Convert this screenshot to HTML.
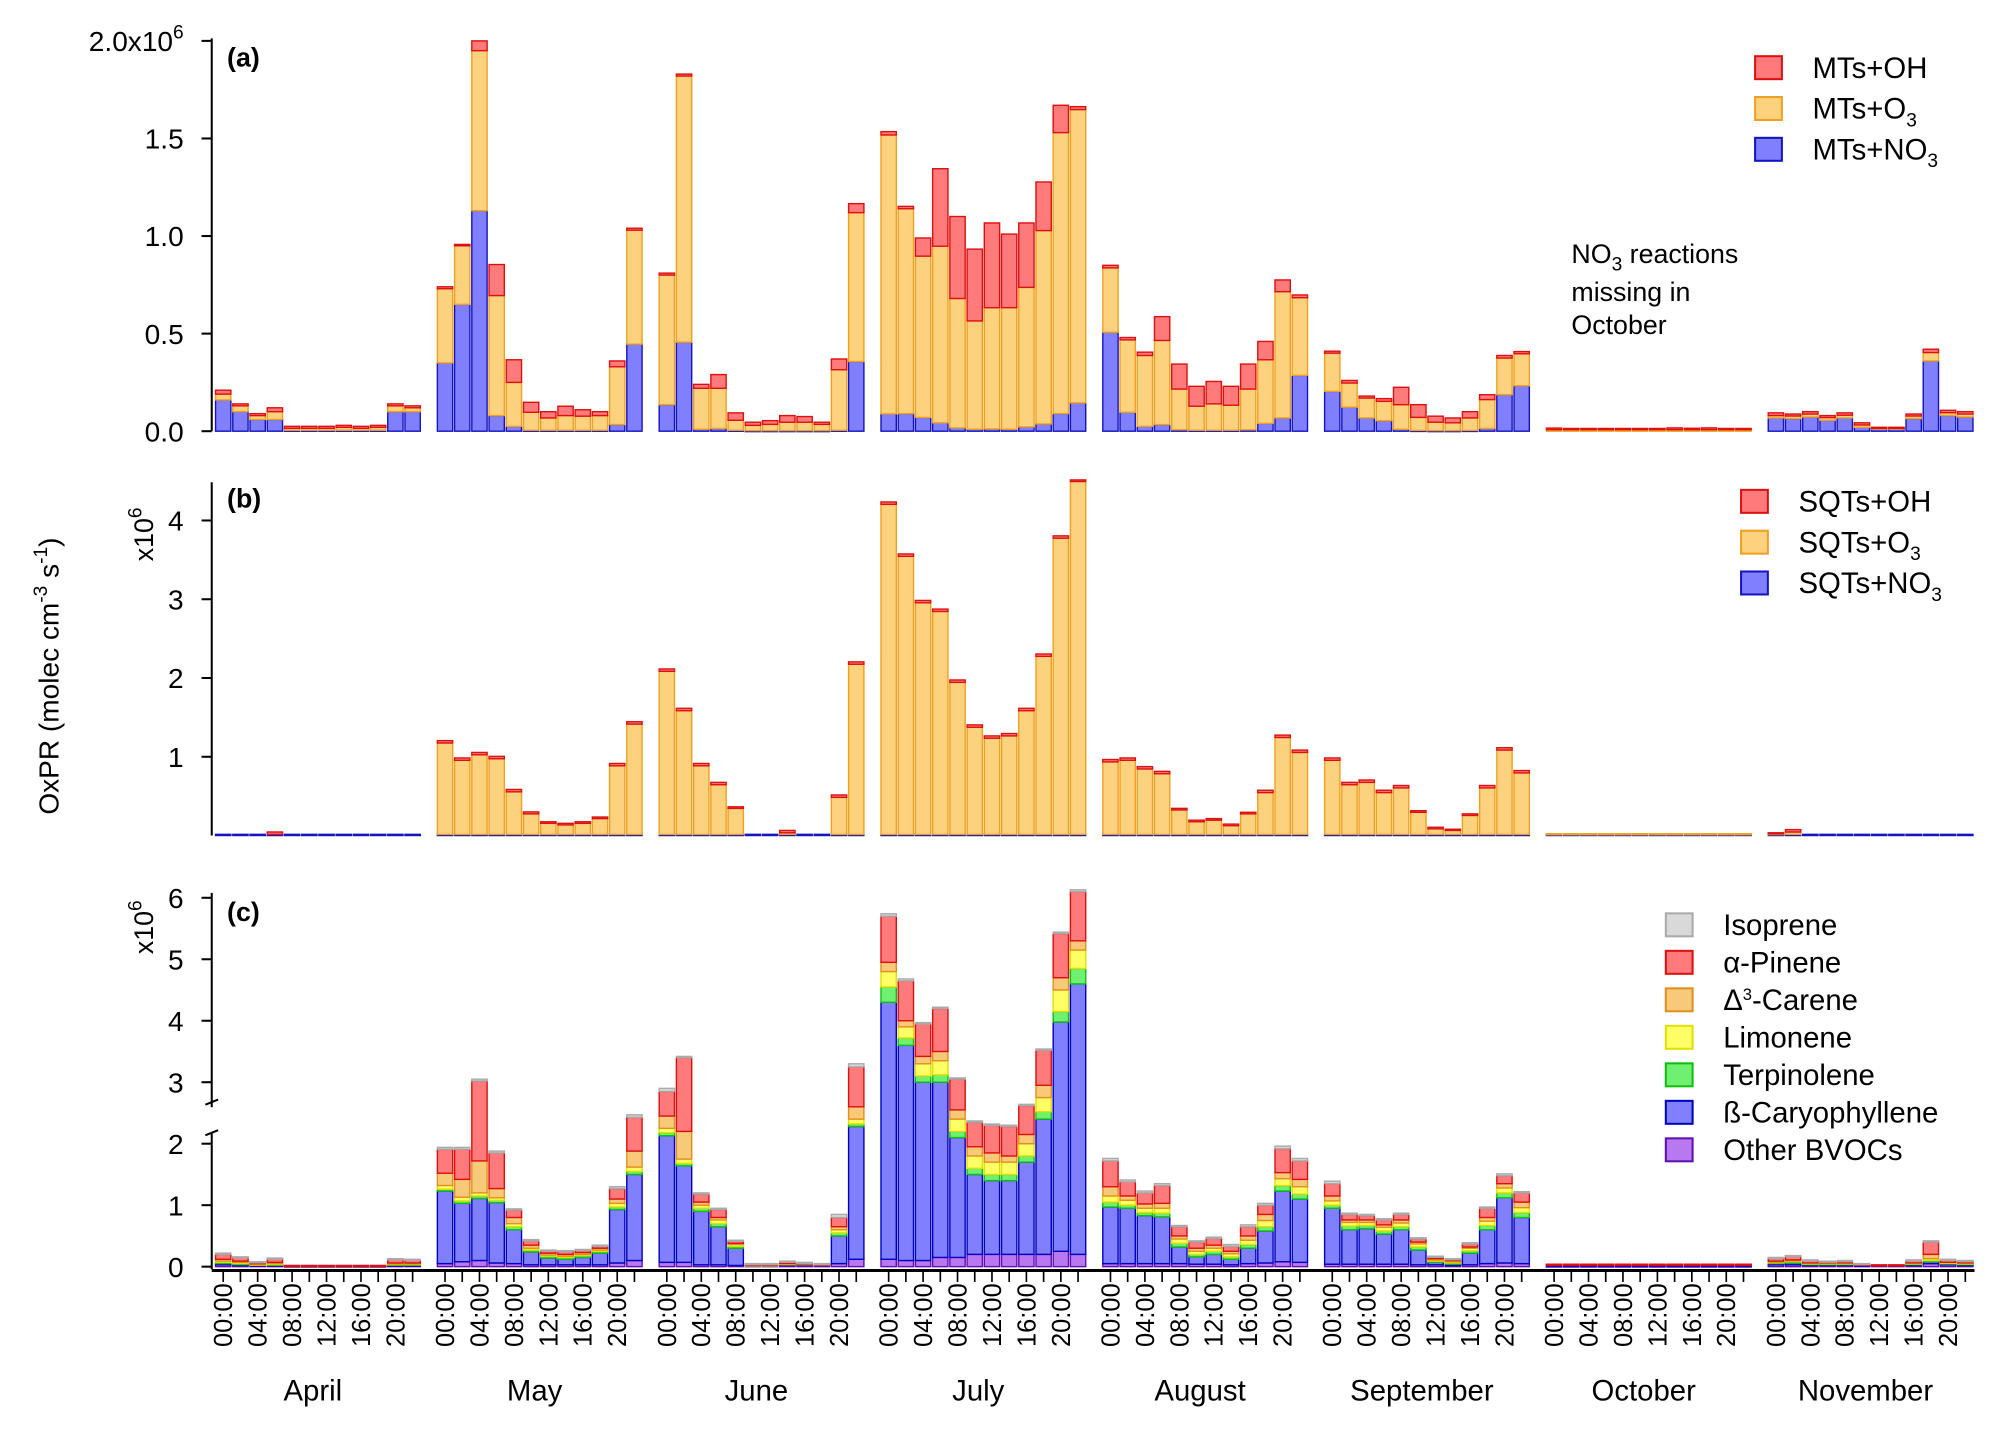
<!DOCTYPE html>
<html><head><meta charset="utf-8"><style>
html,body{margin:0;padding:0;background:#fff;}
svg{display:block;font-family:"Liberation Sans",sans-serif;}
</style></head><body>
<svg id="chart" xmlns="http://www.w3.org/2000/svg" width="2000" height="1430" viewBox="0 0 1568 1121">
<g id="axes"></g>
<g id="bars"></g>
<g id="labels">
<text x="178" y="52" font-size="21" font-weight="bold">(a)</text>
<text x="178" y="398" font-size="21" font-weight="bold">(b)</text>
<text x="178" y="722" font-size="21" font-weight="bold">(c)</text>
<text transform="translate(46,530) rotate(-90)" font-size="22" text-anchor="middle">OxPR (molec cm<tspan dy="-9" font-size="15">-3</tspan><tspan dy="9"> s</tspan><tspan dy="-9" font-size="15">-1</tspan><tspan dy="9">)</tspan></text>
<text transform="translate(120,440) rotate(-90)" font-size="21">x10<tspan dy="-9" font-size="15">6</tspan></text>
<text transform="translate(120,748) rotate(-90)" font-size="21">x10<tspan dy="-9" font-size="15">6</tspan></text>
<text x="1232" y="206" font-size="21">NO<tspan dy="6" font-size="15">3</tspan><tspan dy="-6"> reactions</tspan></text>
<text x="1232" y="236" font-size="21">missing in</text>
<text x="1232" y="262" font-size="21">October</text>
</g>
<g id="legends"></g>
</svg>
<script>
const months = ["April","May","June","July","August","September","October","November"];
const hourLabels = ["00:00","04:00","08:00","12:00","16:00","20:00"];
const aTicks = [0,0.5,1.0,1.5,2.0];
const aTickLabels = ["0.0","0.5","1.0","1.5","2.0x10"];
const bTicks = [1,2,3,4];
const cTicks = [0,1,2,3,4,5,6];

// Panel (a) cumulative tops (x1e6): NO3, NO3+O3, total
const aNO3 = [.16,.10,.06,.06,.005,.005,.005,.005,.005,.005,.10,.10,
 .35,.65,1.13,.08,.025,.005,.005,.005,.005,.005,.034,.446,
 .136,.456,.01,.014,.005,.003,.003,.003,.003,.003,.005,.357,
 .089,.09,.071,.043,.017,.01,.012,.01,.022,.037,.09,.145,
 .507,.097,.025,.034,.007,.005,.005,.005,.007,.04,.068,.286,
 .204,.123,.068,.054,.01,.004,.003,.003,.004,.014,.187,.233,
 0,0,0,0,0,0,0,0,0,0,0,0,
 .068,.065,.073,.056,.068,.02,.012,.012,.065,.36,.08,.073];
const aO3Top = [.19,.13,.08,.10,.015,.015,.015,.02,.015,.02,.13,.12,
 .73,.95,1.95,.695,.25,.097,.068,.08,.077,.08,.33,1.03,
 .80,1.82,.22,.22,.056,.03,.035,.046,.046,.035,.315,1.12,
 1.518,1.14,.897,.948,.68,.565,.633,.633,.737,1.028,1.53,1.648,
 .837,.468,.388,.465,.216,.128,.14,.133,.216,.366,.715,.684,
 .40,.247,.17,.153,.136,.071,.046,.043,.068,.162,.375,.397,
 .008,.008,.008,.008,.008,.008,.008,.008,.008,.008,.008,.008,
 .08,.078,.088,.07,.082,.032,.016,.016,.078,.403,.095,.088];
const aTotal = [.21,.14,.09,.12,.025,.025,.025,.03,.025,.03,.14,.13,
 .74,.957,2.0,.854,.366,.148,.10,.128,.11,.10,.36,1.04,
 .81,1.83,.24,.29,.094,.046,.054,.08,.075,.046,.37,1.166,
 1.535,1.152,.99,1.345,1.10,.933,1.067,1.01,1.067,1.277,1.67,1.663,
 .85,.48,.405,.587,.344,.23,.255,.23,.344,.46,.775,.698,
 .41,.26,.18,.167,.225,.136,.077,.068,.1,.187,.388,.408,
 .016,.014,.014,.014,.014,.014,.014,.017,.015,.017,.014,.014,
 .094,.088,.1,.08,.094,.043,.02,.02,.088,.42,.107,.1];

// Panel (b) components (x1e6)
const bNO3 = Array(96).fill(0.015);
const bO3 = [0,0,0,0,0,0,0,0,0,0,0,0,
 1.16,.94,1.01,.96,.54,.26,.14,.12,.14,.2,.87,1.4,
 2.07,1.57,.87,.63,.33,0,0,.02,0,0,.47,2.16,
 4.19,3.53,2.94,2.83,1.93,1.36,1.22,1.25,1.57,2.26,3.76,4.48,
 .92,.94,.83,.77,.31,.16,.18,.11,.26,.53,1.23,1.04,
 .94,.63,.66,.53,.59,.28,.07,.05,.24,.59,1.07,.78,
 .008,.008,.008,.008,.008,.008,.008,.008,.008,.008,.008,.008,
 .01,.03,0,0,0,0,0,0,0,0,0,0];
const bOH = [0,0,0,.03,0,0,0,0,0,0,0,0,
 .03,.03,.03,.03,.03,.025,.02,.02,.02,.02,.03,.03,
 .03,.03,.03,.03,.02,0,0,.03,0,0,.03,.03,
 .03,.03,.03,.03,.03,.03,.03,.03,.03,.03,.03,.02,
 .03,.03,.03,.03,.02,.02,.02,.02,.02,.03,.03,.03,
 .03,.03,.03,.03,.03,.02,.02,.015,.02,.03,.03,.03,
 0,0,0,0,0,0,0,0,0,0,0,0,
 .01,.03,0,0,0,0,0,0,0,0,0,0];

// Panel (c) cumulative layer tops (x1e6), bottom to top
const cOther = [.03,.02,.02,.02,.01,.01,.01,.01,.01,.01,.02,.02,
 .05,.08,.1,.06,.05,.03,.03,.03,.03,.03,.06,.1,
 .07,.07,.03,.03,.02,.02,.02,.03,.03,.03,.05,.12,
 .12,.1,.1,.15,.15,.2,.2,.2,.2,.2,.25,.2,
 .05,.05,.05,.05,.05,.04,.04,.03,.05,.06,.08,.07,
 .04,.04,.04,.04,.04,.03,.03,.02,.03,.05,.06,.05,
 .01,.01,.01,.01,.01,.01,.01,.01,.01,.01,.01,.01,
 .03,.03,.03,.03,.03,.02,.02,.02,.02,.05,.03,.02];
const cCaryo = [.05,.04,.03,.03,.01,.01,.01,.01,.01,.01,.03,.03,
 1.23,1.03,1.11,1.04,.6,.24,.14,.12,.15,.22,.93,1.5,
 2.13,1.64,.9,.65,.3,.02,.02,.04,.04,.03,.5,2.28,
 4.3,3.6,3.0,3.0,2.1,1.5,1.4,1.4,1.7,2.4,3.98,4.6,
 .97,.95,.83,.81,.32,.16,.2,.12,.3,.58,1.23,1.1,
 .95,.6,.62,.53,.6,.27,.07,.04,.22,.6,1.12,.8,
 .035,.035,.035,.035,.035,.035,.035,.035,.035,.035,.035,.035,
 .05,.06,.04,.04,.04,.03,.02,.02,.04,.08,.05,.04];
const cTerp = [.07,.05,.03,.04,.01,.01,.01,.01,.01,.01,.04,.04,
 1.26,1.07,1.15,1.08,.65,.27,.17,.15,.18,.25,.97,1.55,
 2.18,1.68,.95,.7,.33,.02,.02,.04,.04,.03,.55,2.32,
 4.55,3.72,3.1,3.12,2.2,1.6,1.5,1.5,1.8,2.52,4.15,4.85,
 1.05,1.0,.88,.87,.38,.2,.25,.16,.36,.65,1.32,1.18,
 1.0,.66,.67,.58,.65,.32,.09,.06,.26,.67,1.2,.88,
 .035,.035,.035,.035,.035,.035,.035,.035,.035,.035,.035,.035,
 .07,.08,.05,.05,.05,.03,.02,.02,.05,.1,.06,.05];
const cLimo = [.09,.07,.04,.05,.01,.01,.01,.01,.01,.01,.05,.05,
 1.32,1.13,1.2,1.12,.7,.3,.19,.17,.2,.27,1.03,1.62,
 2.25,1.75,1.0,.76,.36,.03,.03,.05,.05,.03,.6,2.4,
 4.8,3.9,3.3,3.35,2.4,1.8,1.7,1.7,2.0,2.75,4.5,5.15,
 1.15,1.08,.95,.95,.45,.25,.3,.21,.43,.75,1.43,1.3,
 1.07,.72,.72,.64,.71,.37,.11,.08,.3,.74,1.28,.96,
 .035,.035,.035,.035,.035,.035,.035,.035,.035,.035,.035,.035,
 .08,.1,.06,.06,.06,.03,.02,.02,.06,.13,.07,.06];
const cCarene = [.12,.09,.05,.07,.01,.01,.01,.01,.01,.01,.06,.06,
 1.52,1.42,1.72,1.27,.8,.35,.22,.2,.23,.3,1.1,1.88,
 2.45,2.2,1.05,.8,.38,.03,.03,.05,.05,.03,.65,2.6,
 4.95,4.0,3.42,3.5,2.55,1.95,1.85,1.8,2.15,2.95,4.7,5.3,
 1.3,1.15,1.02,1.03,.5,.3,.35,.25,.5,.85,1.53,1.42,
 1.15,.76,.76,.68,.76,.4,.13,.1,.32,.8,1.35,1.05,
 .035,.035,.035,.035,.035,.035,.035,.035,.035,.035,.035,.035,
 .09,.11,.06,.06,.06,.03,.02,.02,.06,.2,.07,.06];
const cPinene = [.2,.15,.07,.13,.02,.02,.02,.02,.02,.02,.12,.11,
 1.91,1.91,3.02,1.85,.92,.42,.26,.25,.27,.33,1.27,2.43,
 2.85,3.4,1.18,.93,.42,.04,.04,.08,.06,.04,.8,3.25,
 5.7,4.65,3.95,4.2,3.05,2.35,2.3,2.28,2.62,3.52,5.42,6.1,
 1.72,1.38,1.2,1.32,.65,.4,.46,.33,.65,1.0,1.92,1.72,
 1.35,.85,.83,.76,.85,.45,.16,.12,.37,.95,1.48,1.2,
 .04,.04,.04,.04,.04,.04,.04,.04,.04,.04,.04,.04,
 .14,.17,.1,.08,.09,.04,.03,.03,.1,.4,.11,.09];
const cIsoprene = [.22,.16,.08,.14,.02,.02,.02,.02,.02,.02,.13,.12,
 1.94,1.94,3.05,1.88,.94,.44,.27,.26,.28,.35,1.3,2.47,
 2.9,3.42,1.2,.95,.43,.05,.05,.09,.07,.05,.85,3.3,
 5.74,4.68,3.97,4.22,3.07,2.37,2.32,2.3,2.64,3.54,5.44,6.13,
 1.76,1.41,1.23,1.35,.67,.42,.48,.36,.68,1.03,1.96,1.76,
 1.39,.87,.85,.78,.87,.47,.17,.13,.39,.97,1.51,1.22,
 .04,.04,.04,.04,.04,.04,.04,.04,.04,.04,.04,.04,
 .15,.18,.11,.09,.1,.05,.03,.03,.11,.42,.12,.1];

const NS = "http://www.w3.org/2000/svg";
function mk(tag, attrs, parent){const e=document.createElementNS(NS,tag);for(const k in attrs)e.setAttribute(k,attrs[k]);parent.appendChild(e);return e;}
const xBar = i => 169 + Math.floor(i/12)*173.9 + (i%12)*13.5;
const BW = 12;
const ya = v => 338 - v*153;
const yb = v => 655 - v*61.75;
const yc = v => 993 - v*48.2;
const axes = document.getElementById('axes');
const bars = document.getElementById('bars');
const leg = document.getElementById('legends');

const C = {
 oh:["#ff7b7b","#dd1010"], o3:["#fdd27f","#f0a020"], no3:["#8080ff","#1414c0"],
 iso:["#d9d9d9","#aaaaaa"], pin:["#ff7b7b","#dd1010"], car:["#f9c97a","#e09020"],
 lim:["#ffff66","#e0e000"], ter:["#70f070","#10c010"], cary:["#8080ff","#0000c0"], oth:["#b878f0","#6010b0"]
};
function seg(i, y0, y1, col, name){
  if (y0 - y1 <= 0.01) return;
  const r = mk('rect',{x:xBar(i),y:y1,width:BW,height:Math.max(y0-y1,0.8),fill:col[0],stroke:col[1],'stroke-width':1.1},bars);
  
  
}
for (let i=0;i<96;i++){
  seg(i, ya(0), ya(aNO3[i]), C.no3, 'bar-a-mts-no3');
  seg(i, ya(aNO3[i]), ya(aO3Top[i]), C.o3, 'bar-a-mts-o3');
  seg(i, ya(aO3Top[i]), ya(aTotal[i]), C.oh, 'bar-a-mts-oh');
  const b1=bNO3[i], b2=b1+bO3[i], b3=b2+bOH[i];
  seg(i, yb(0), yb(b1), C.no3, 'bar-b-sqts-no3');
  seg(i, yb(b1), yb(b2), C.o3, 'bar-b-sqts-o3');
  seg(i, yb(b2), yb(b3), C.oh, 'bar-b-sqts-oh');
  const lv=[0,cOther[i],cCaryo[i],cTerp[i],cLimo[i],cCarene[i],cPinene[i],cIsoprene[i]];
  const cols=[C.oth,C.cary,C.ter,C.lim,C.car,C.pin,C.iso];
  const nm=['bar-c-other','bar-c-caryophyllene','bar-c-terpinolene','bar-c-limonene','bar-c-carene','bar-c-pinene','bar-c-isoprene'];
  for(let k=0;k<7;k++) seg(i, yc(lv[k]), yc(lv[k+1]), cols[k], nm[k]);
}

function line(x1,y1,x2,y2,name,w){const l=mk('line',{x1,y1,x2,y2,stroke:'#000','stroke-width':w||1.6},axes);
 
 }
const AX=166;
line(AX,30,AX,338,'y-axis-a');
aTicks.forEach((v,k)=>{line(AX-8,ya(v),AX,ya(v),'y-tick-a');
 const t=mk('text',{x:AX-22,y:ya(v)+8,'font-size':22,'text-anchor':'end'},axes);
 t.textContent=aTickLabels[k];
 if(k===aTicks.length-1){const s=mk('tspan',{dy:-10,'font-size':15},t);s.textContent='6';}
 
 });
line(AX,378,AX,655,'y-axis-b');
bTicks.forEach(v=>{line(AX-8,yb(v),AX,yb(v),'y-tick-b');
 const t=mk('text',{x:AX-22,y:yb(v)+8,'font-size':22,'text-anchor':'end'},axes);t.textContent=String(v);
 
 });
line(AX,700,AX,868,'y-axis-c-upper');
line(AX,888,AX,995,'y-axis-c-lower');
line(AX-5,866,AX+5,862,'axis-break-mark');
line(AX-5,890,AX+5,886,'axis-break-mark');
cTicks.forEach(v=>{line(AX-8,yc(v),AX,yc(v),'y-tick-c');
 const t=mk('text',{x:AX-22,y:yc(v)+8,'font-size':22,'text-anchor':'end'},axes);t.textContent=String(v);
 
 });
line(AX,996,1548,996,'x-axis',2.4);
for(let i=0;i<96;i++){
  const cx=xBar(i)+BW/2;
  line(cx,996,cx,1005,'x-tick',1.3);
  if(i%2===0){
    const t=mk('text',{transform:`translate(${cx+7},1006) rotate(-90)`,'font-size':20,'text-anchor':'end'},axes);
    t.textContent=hourLabels[(i%12)/2];
    
    
  }
}
months.forEach((m,k)=>{
  const cx=xBar(k*12)+ (xBar(k*12+11)+BW - xBar(k*12))/2;
  const t=mk('text',{x:cx-4,y:1098,'font-size':23,'text-anchor':'middle'},axes);t.textContent=m;
  
  
});

function legend(x,y0,dy,items,tx){
  items.forEach((it,k)=>{
    const y=y0+k*dy;
    const r=mk('rect',{x:x,y:y-9,width:21,height:18,fill:it[1][0],stroke:it[1][1],'stroke-width':1.6},leg);
    
    
    const t=mk('text',{x:tx,y:y+8,'font-size':23},leg);
    t.innerHTML=it[0];
    
    
  });
}
const sub='<tspan dy="6" font-size="15">3</tspan>';
legend(1376,53,32,[["MTs+OH",C.oh],["MTs+O"+sub,C.o3],["MTs+NO"+sub,C.no3]],1421);
legend(1365,393,32,[["SQTs+OH",C.oh],["SQTs+O"+sub,C.o3],["SQTs+NO"+sub,C.no3]],1410);
legend(1306,725,29.4,[["Isoprene",C.iso],["α-Pinene",C.pin],["Δ<tspan dy='-8' font-size='13'>3</tspan><tspan dy='8'>-Carene</tspan>",C.car],["Limonene",C.lim],["Terpinolene",C.ter],["ß-Caryophyllene",C.cary],["Other BVOCs",C.oth]],1351);
</script>
</body></html>
